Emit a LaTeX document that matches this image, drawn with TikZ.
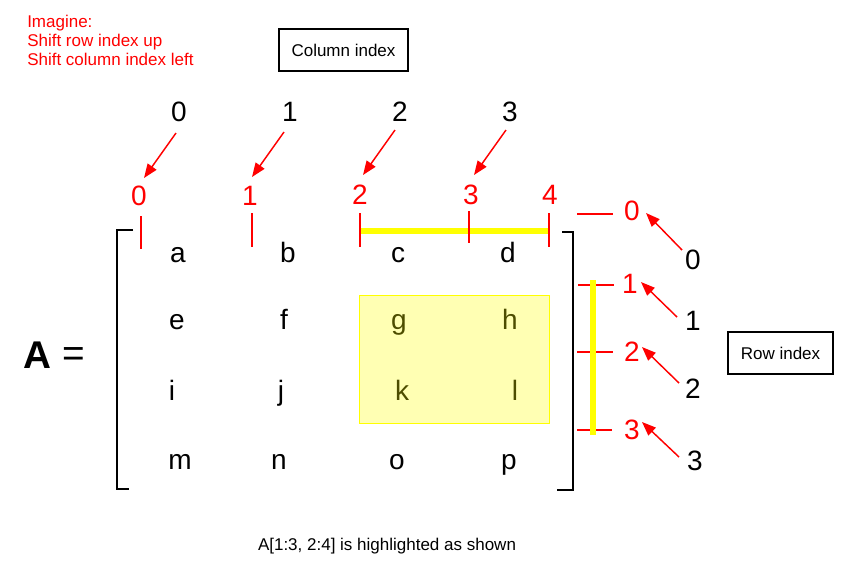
\documentclass[tikz,border=0pt]{standalone}
\usepackage{fontspec}
\setmainfont{Liberation Sans}
\usetikzlibrary{arrows.meta}
\definecolor{myred}{RGB}{255,0,0}
\definecolor{myyellow}{RGB}{255,255,0}
\definecolor{hlfill}{RGB}{255,255,179}
\definecolor{hltext}{RGB}{77,77,0}
\begin{document}
\begin{tikzpicture}[x=0.75pt,y=-0.75pt,
  big/.style={font=\fontsize{21}{25}\selectfont, inner sep=0pt},
  bigred/.style={big, text=myred},
  letter/.style={big, anchor=base},
  hlletter/.style={letter, text=hltext},
  small/.style={font=\fontsize{12.75}{15}\selectfont, inner sep=0pt},
  note/.style={small, text=myred, anchor=base west},
  labelbox/.style={small, draw=black, line width=1.3pt, minimum height=31.5pt},
  arr/.style={myred, line width=1.1pt, -{Triangle[length=10.5pt,width=8pt]}},
  tick/.style={myred, line width=2.2pt},
  ybar/.style={myyellow, line width=5.2pt},
  brack/.style={black, line width=2.2pt},
]
\useasboundingbox (0,0) rectangle (858,576);

% notes
\node[note] (im1) at (27,27) {Imagine:};
\node[note] (im2) at (27,46) {Shift row index up};
\node[note] (im3) at (27,65) {Shift column index left};

\node[labelbox, minimum width=96.75pt] (colbox) at (343.5,50) {Column index};
\node[labelbox, minimum width=78.75pt] (rowbox) at (780.5,353) {Row index};

% A =
\node[font=\fontsize{29}{34}\selectfont\bfseries, anchor=base, inner sep=0pt] (Aname) at (37,368) {A};
\node[font=\fontsize{29}{34}\selectfont, inner sep=0pt] (eq) at (74,357) {=};

% highlight
\node[draw=myyellow, fill=hlfill, line width=0.6pt, inner sep=0pt,
      minimum width=142.5pt, minimum height=96pt] (hl) at (454,359) {};

% brackets
\draw[brack] (133,230) -- (117,230) -- (117,489) -- (129,489);
\draw[brack] (562,232) -- (573,232) -- (573,490) -- (557,490);

% matrix entries
\node[letter] (ma) at (178,262) {a};
\node[letter] (mb) at (288,262) {b};
\node[letter] (mc) at (398,262) {c};
\node[letter] (md) at (508,262) {d};
\node[letter] (me) at (177,329) {e};
\node[letter] (mf) at (284,329) {f};
\node[hlletter] (mg) at (399,329) {g};
\node[hlletter] (mh) at (510,329) {h};
\node[letter] (mi) at (172,400) {i};
\node[letter] (mj) at (281,400) {j};
\node[hlletter] (mk) at (402,400) {k};
\node[hlletter] (ml) at (515,400) {l};
\node[letter] (mm) at (180,469) {m};
\node[letter] (mn) at (279,469) {n};
\node[letter] (mo) at (397,469) {o};
\node[letter] (mp) at (509,469) {p};

% column bar and ticks
\draw[ybar] (360,231) -- (549,231);
\draw[tick] (141,216) -- (141,249);
\draw[tick] (252,213) -- (252,247);
\draw[tick] (360,213) -- (360,247);
\draw[tick] (469,211) -- (469,243);
\draw[tick] (549,213) -- (549,247);

% column labels
\node[big] (bc0) at (179,112) {0};
\node[big] (bc1) at (290,112) {1};
\node[big] (bc2) at (400,112) {2};
\node[big] (bc3) at (510,112) {3};
\node[bigred] (rc0) at (139,196) {0};
\node[bigred] (rc1) at (250,196) {1};
\node[bigred] (rc2) at (360,195) {2};
\node[bigred] (rc3) at (471,195) {3};
\node[bigred] (rc4) at (550,195) {4};

\coordinate (ca0) at (176,133); \coordinate (ct0) at (144,178);
\coordinate (ca1) at (284,132); \coordinate (ct1) at (252,177);
\coordinate (ca2) at (395,130); \coordinate (ct2) at (363,175);
\coordinate (ca3) at (506,130); \coordinate (ct3) at (474,175);
\draw[arr] (ca0) -- (ct0);
\draw[arr] (ca1) -- (ct1);
\draw[arr] (ca2) -- (ct2);
\draw[arr] (ca3) -- (ct3);

% row dashes and bar
\draw[tick] (577,214) -- (613,214);
\draw[tick] (578,285) -- (614,285);
\draw[tick] (577,352) -- (613,352);
\draw[tick] (577,430) -- (612,430);
\draw[ybar] (593,280) -- (593,435);

% row labels
\node[bigred] (rr0) at (632,211) {0};
\node[bigred] (rr1) at (630,284) {1};
\node[bigred] (rr2) at (632,352) {2};
\node[bigred] (rr3) at (632,430) {3};
\node[big] (br0) at (693,260) {0};
\node[big] (br1) at (693,321) {1};
\node[big] (br2) at (693,389) {2};
\node[big] (br3) at (695,461) {3};

\coordinate (ra0) at (682,250); \coordinate (rt0) at (646,213);
\coordinate (ra1) at (677,317); \coordinate (rt1) at (641,282);
\coordinate (ra2) at (679,383); \coordinate (rt2) at (642,347);
\coordinate (ra3) at (679,457); \coordinate (rt3) at (642,422);
\draw[arr] (ra0) -- (rt0);
\draw[arr] (ra1) -- (rt1);
\draw[arr] (ra2) -- (rt2);
\draw[arr] (ra3) -- (rt3);

% caption
\node[small, anchor=base] (cap) at (387,550) {A[1:3, 2:4] is highlighted as shown};
\end{tikzpicture}
\end{document}
